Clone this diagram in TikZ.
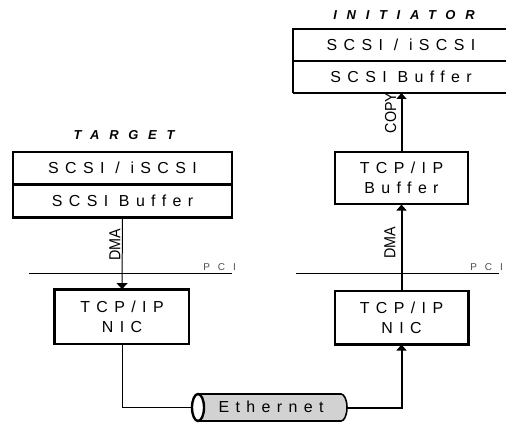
\documentclass[tikz,border=0pt]{standalone}
\usepackage{fontspec}
\setmainfont{Liberation Sans}
\newfontfamily\boxfont[LetterSpace=40]{Liberation Sans}
\newfontfamily\pcifont[LetterSpace=80]{Liberation Sans}
\newfontfamily\ttlfont[LetterSpace=75]{Liberation Sans}
\newfontfamily\narrowfont[FakeStretch=0.9]{Liberation Sans}
\usetikzlibrary{arrows.meta}
\begin{document}
\begin{tikzpicture}[x=1bp,y=-1bp,
  box/.style={draw,line width=1.1pt,inner sep=0pt,align=center,
    font=\boxfont\fontsize{16}{20}\selectfont},
  opentext/.style={inner sep=0pt,align=center,font=\boxfont\fontsize{16}{20}\selectfont},
  title/.style={inner sep=0pt,font=\ttlfont\bfseries\itshape\fontsize{13}{14}\selectfont},
  lbl/.style={inner sep=0.5pt,rotate=90,font=\narrowfont\fontsize{16}{17}\selectfont},
  pcilbl/.style={inner sep=0pt,anchor=south east,text=black!70,font=\pcifont\fontsize{10}{11}\selectfont},
  bus/.style={line width=0.9pt},
  thinarrow/.style={line width=1pt,-{Triangle[length=6pt,width=11pt]}},
  thickarrow/.style={line width=2pt,-{Triangle[length=6pt,width=10pt]}},
  wire/.style={line width=1pt}]
\useasboundingbox (0,0) rectangle (506,426);

% Target stack
\node[title] (tgt) at (124,135) {TARGET};
\node[box,minimum width=219bp,minimum height=32bp] (tgtA) at (122.5,168) {SCSI / iSCSI};
\node[box,minimum width=219bp,minimum height=33bp] (tgtB) at (122.5,200.5) {SCSI Buffer};
\draw[line width=2pt] (tgtA.south west) -- (tgtA.south east);
\draw[line width=2.4pt] (tgtB.south west) -- (tgtB.south east);

% Initiator stack (its right edge runs off the picture)
\node[title] (ini) at (404,15) {INITIATOR};
\node[opentext] (iniA) at (401,45) {SCSI / iSCSI};
\node[opentext] (iniB) at (401,77) {SCSI Buffer};
\coordinate (iniTL) at (293,29);
\coordinate (iniML) at (293,61);
\coordinate (iniBL) at (293,93);
\coordinate (iniTR) at (506,29);
\coordinate (iniMR) at (506,61);
\coordinate (iniBR) at (506,93);
\draw[line width=1.1pt] (iniTR) -- (iniTL) -- (iniBL);
\draw[line width=1.6pt] (iniML) -- (iniMR);
\draw[line width=2pt] (iniBL) -- (iniBR);

% Right buffers / NICs
\node[box,minimum width=133bp,minimum height=52bp] (buf) at (401.5,178) {TCP/IP\\Buffer};
\node[box,minimum width=133bp,minimum height=53bp] (rnic) at (401.5,317.5) {TCP/IP\\NIC};
\draw[line width=2pt] (rnic.south west) -- (rnic.south east) -- (rnic.north east);

\node[box,line width=1.8pt,minimum width=134bp,minimum height=54bp] (lnic) at (122,317) {TCP/IP\\NIC};
\draw[line width=3pt] (lnic.south west) -- (lnic.north west) -- (lnic.north east);

% PCI buses
\coordinate (pciLa) at (29,273);
\coordinate (pciLb) at (232,273);
\coordinate (pciRa) at (296,273);
\coordinate (pciRb) at (499,273);
\draw[bus] (pciLa) -- (pciLb);
\draw[bus] (pciRa) -- (pciRb);
\node[pcilbl] (pciL) at (236,271) {PCI};
\node[pcilbl] (pciR) at (503,271) {PCI};

% Ethernet cylinder
\node[minimum width=155bp,minimum height=27bp,inner sep=0pt] (eth) at (269.5,407.5) {};
\fill[gray!35] (198,394) -- (341,394)
  arc[start angle=-90,end angle=90,x radius=6,y radius=13.5]
  -- (198,421) arc[start angle=90,end angle=270,x radius=6,y radius=13.5] -- cycle;
\draw[line width=1.6pt] (198,394) -- (341,394)
  arc[start angle=-90,end angle=90,x radius=6,y radius=13.5] -- (198,421);
\draw[line width=2.4pt,fill=white] (198,407.5) ellipse[x radius=6,y radius=13.5];
\node[inner sep=0pt,font=\boxfont\fontsize{16}{18}\selectfont] (ethtxt) at (271,407) {Ethernet};

% Connectors
\draw[thinarrow] (tgtB.south) -- (lnic.north);
\node[lbl,anchor=south] (dmaL) at (121,245) {DMA};
\draw[wire] (lnic.south) |- (eth.west);
\draw[thickarrow] (eth.east) -| (rnic.south);
\draw[thickarrow] (rnic.north) -- (buf.south);
\node[lbl,anchor=south] (dmaR) at (396,243) {DMA};
\draw[thickarrow] (buf.north) -- (buf.north |- iniBL);
\node[lbl,anchor=south] (copy) at (397,113) {COPY};
\end{tikzpicture}
\end{document}
